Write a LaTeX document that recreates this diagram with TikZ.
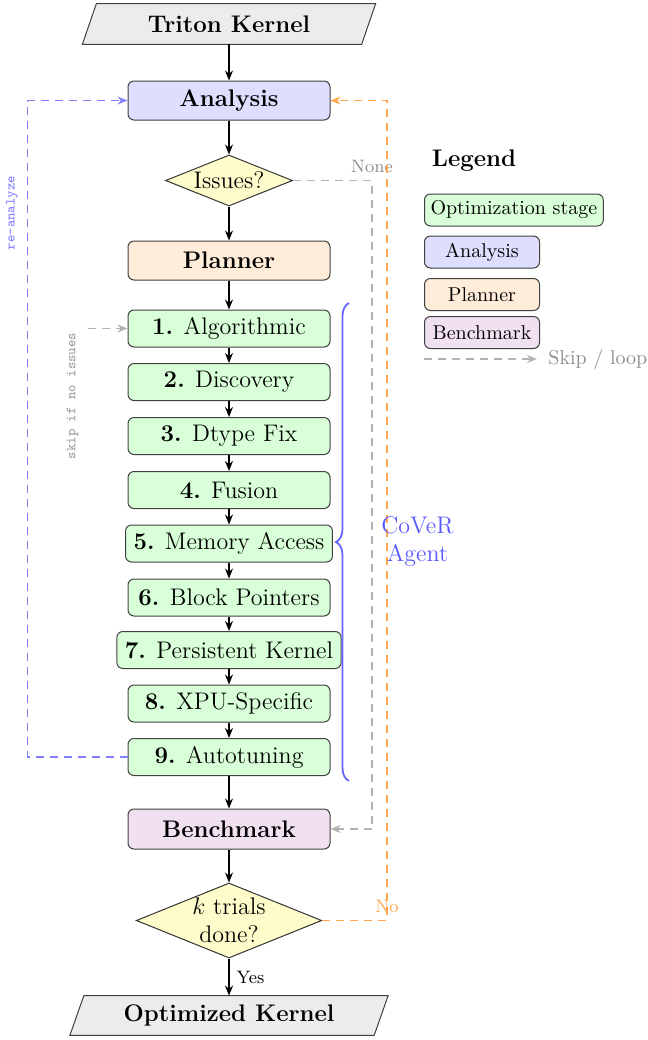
\documentclass[tikz,border=0pt]{standalone}
\usetikzlibrary{shapes.geometric,arrows.meta,decorations.pathreplacing,backgrounds,calc}
\begin{document}
\begin{tikzpicture}[x=0.5pt,y=-0.5pt,
  box/.style={draw=black!75, line width=0.5pt, rounded corners=3pt, minimum width=101pt, minimum height=19.5pt, inner xsep=4pt, inner ysep=3pt, font=\large, align=center},
  mainbox/.style={box, font=\large\bfseries},
  stage/.style={box, fill=green!15, minimum height=18.5pt},
  flow/.style={line width=0.9pt, -{Stealth[length=5pt,width=4pt]}},
  dia/.style={diamond, aspect=2.5, draw=black!80, line width=0.5pt, fill=yellow!20, inner sep=0pt, font=\large, align=center},
  para/.style={inner sep=0pt, font=\large\bfseries},
  parafill/.style={draw=black!75, line width=0.5pt, fill=gray!15},
  lbox/.style={draw=black!75, line width=0.5pt, rounded corners=3pt, minimum width=57.5pt, minimum height=16pt, anchor=west, inner sep=3pt},
  dashpat/.style={line width=0.9pt, dash pattern=on 4pt off 3pt},
  skipline/.style={dashpat, draw=black!30, -{Stealth[length=5pt,width=4pt]}},
  blueloop/.style={dashpat, draw=blue!50, -{Stealth[length=5pt,width=4pt]}},
  orangeloop/.style={dashpat, draw=orange!70, -{Stealth[length=5pt,width=4pt]}},
  sidelabel/.style={font=\scriptsize\ttfamily, rotate=90}
]
\useasboundingbox (0,0) rectangle (648,1040);

% main flow nodes
\node[para, minimum width=139.25pt, minimum height=20pt] (tk) at (229,24) {Triton Kernel};
\node[mainbox, fill=blue!13] (ana) at (229,100.5) {Analysis};
\node[dia, minimum width=63.5pt, minimum height=25.5pt] (iss) at (229,180.5) {Issues?};
\node[mainbox, fill=orange!15] (pl) at (229,260.5) {Planner};
\node[stage] (s1) at (229,328.5) {\textbf{1.} Algorithmic};
\node[stage] (s2) at (229,382) {\textbf{2.} Discovery};
\node[stage] (s3) at (229,436) {\textbf{3.} Dtype Fix};
\node[stage] (s4) at (229,490) {\textbf{4.} Fusion};
\node[stage] (s5) at (229,543.5) {\textbf{5.} Memory Access};
\node[stage] (s6) at (229,597.5) {\textbf{6.} Block Pointers};
\node[stage] (s7) at (229,650) {\textbf{7.} Persistent Kernel};
\node[stage] (s8) at (229,703.5) {\textbf{8.} XPU-Specific};
\node[stage] (s9) at (229,757) {\textbf{9.} Autotuning};
\node[mainbox, fill=violet!12, minimum height=20pt] (bm) at (229,829) {Benchmark};
\node[dia, minimum width=92pt, minimum height=37.5pt] (kt) at (229,920.5) {$k$ trials\\done?};
\node[para, minimum width=151.75pt, minimum height=19.5pt] (ok) at (229,1015.5) {Optimized Kernel};

\begin{scope}[on background layer]
  \path[parafill] ([xshift=-3.5pt]tk.south west) -- ([xshift=3.5pt]tk.north west) -- ([xshift=3.5pt]tk.north east) -- ([xshift=-3.5pt]tk.south east) -- cycle;
  \path[parafill] ([xshift=-3.5pt]ok.south west) -- ([xshift=3.5pt]ok.north west) -- ([xshift=3.5pt]ok.north east) -- ([xshift=-3.5pt]ok.south east) -- cycle;
\end{scope}

% main arrows
\draw[flow] (tk) -- (ana);
\draw[flow] (ana) -- (iss);
\draw[flow] (iss) -- (pl);
\draw[flow] (pl) -- (s1);
\draw[flow] (s1) -- (s2);
\draw[flow] (s2) -- (s3);
\draw[flow] (s3) -- (s4);
\draw[flow] (s4) -- (s5);
\draw[flow] (s5) -- (s6);
\draw[flow] (s6) -- (s7);
\draw[flow] (s7) -- (s8);
\draw[flow] (s8) -- (s9);
\draw[flow] (s9) -- (bm);
\draw[flow] (bm) -- (kt);
\draw[flow] (kt) -- node[right, font=\small] {Yes} (ok);

% loops
\coordinate (gx) at (372,0);
\coordinate (ox) at (387,0);
\draw[skipline] (iss.east) -- (iss.east -| gx) node[above, font=\small, text=black!45] {None} |- (bm.east);
\draw[orangeloop] (kt.east) -- (kt.east -| ox) node[above, font=\small, text=orange!70] {No} |- (ana.east);
\draw[blueloop] (s9.west) -- ++(-100,0) |- (ana.west);
\node[sidelabel, text=blue!50] (rl) at (12,213) {re-analyze};

\coordinate (sk) at (88,328.5);
\draw[skipline] (sk) -- (s1.west);
\node[sidelabel, text=black!40] (sl) at (72.5,396) {skip if no issues};

% brace
\coordinate (bt) at (349,303);
\coordinate (bb) at (349,781);
\draw[decorate, decoration={brace, amplitude=6.5pt}, line width=0.9pt, draw=blue!60] (bb) -- (bt);
\node[font=\large, text=blue!65, align=center] (cov) at (417.5,541.5) {CoVeR\\Agent};

% legend
\node[font=\large\bfseries] (lg) at (474,161) {Legend};
\node[lbox, fill=green!15] (l1) at (424,210) {Optimization stage};
\node[lbox, fill=blue!13] (l2) at (424,252) {Analysis};
\node[lbox, fill=orange!15] (l3) at (424,294.5) {Planner};
\node[lbox, fill=violet!12] (l4) at (424,332.5) {Benchmark};
\coordinate (la) at (424,359);
\node[anchor=west, inner sep=2pt, text=black!45] (lt) at (544,359) {Skip / loop};
\draw[skipline, shorten >=3.5pt] (la) -- (lt.west);
\end{tikzpicture}
\end{document}
